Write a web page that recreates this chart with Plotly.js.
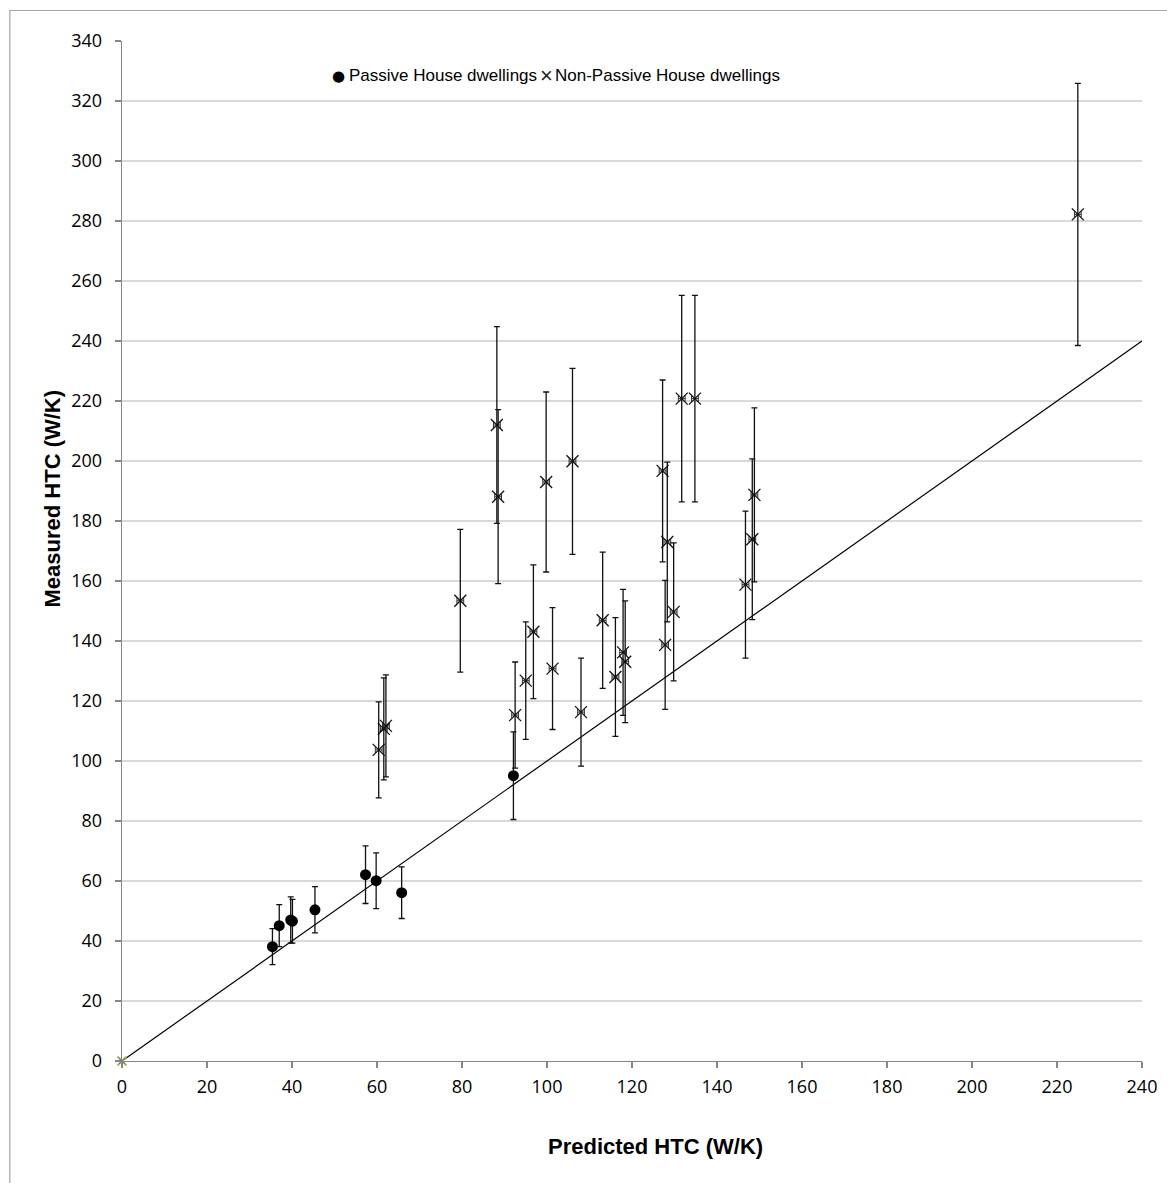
<!DOCTYPE html>
<html>
<head>
<meta charset="utf-8">
<script src="https://cdn.plot.ly/plotly-3.0.1.min.js"></script>
<style>
  html, body { margin: 0; padding: 0; background: #fff; }
  #chart { width: 1167px; height: 1183px; }
</style>
</head>
<body>
<div id="chart"></div>
<script>
// Passive House dwellings
const passiveX   = [35.4, 37.0, 39.7, 40.1, 45.4, 57.3, 59.8, 65.8, 92.1];
const passiveY   = [38.1, 45.1, 47.0, 46.6, 50.4, 62.1, 60.1, 56.1, 95.1];
const passiveErr = [6.0, 7.0, 7.7, 7.3, 7.7, 9.6, 9.3, 8.6, 14.6];

// Non-Passive House dwellings
const nonPassiveX   = [60.4, 61.6, 62.1, 79.6, 88.2, 88.5, 92.5, 95.0, 96.8, 99.8, 101.3, 106.0, 108.0, 113.1,
                       116.1, 117.9, 118.4, 127.2, 127.8, 128.3, 129.8, 131.7, 134.8, 146.7, 148.3, 148.8, 224.9];
const nonPassiveY   = [103.7, 110.7, 111.7, 153.4, 212.0, 188.1, 115.3, 126.8, 143.1, 193.0, 130.8, 199.9, 116.3, 146.9,
                       128.0, 136.2, 133.1, 196.7, 138.7, 173.0, 149.7, 220.8, 220.8, 158.8, 173.9, 188.7, 282.2];
const nonPassiveErr = [16.0, 17.0, 17.0, 23.8, 32.8, 29.0, 17.7, 19.6, 22.3, 30.0, 20.3, 31.0, 18.0, 22.7,
                       19.8, 21.0, 20.3, 30.3, 21.5, 26.6, 23.0, 34.4, 34.4, 24.5, 26.8, 29.0, 43.7];
const nonPassiveErrX = 0.8;

// 1:1 reference line
const lineX = [0, 240];
const lineY = [0, 240];

// Axis ticks
const xTicks = [0, 20, 40, 60, 80, 100, 120, 140, 160, 180, 200, 220, 240];
const yTicks = [0, 20, 40, 60, 80, 100, 120, 140, 160, 180, 200, 220, 240, 260, 280, 300, 320, 340];

// Legend labels
const legendLabels = ['Passive House dwellings', 'Non-Passive House dwellings'];

const traces = [
  {
    x: lineX, y: lineY, mode: 'lines', type: 'scatter',
    line: { color: '#000000', width: 1.2 }, showlegend: false, hoverinfo: 'skip'
  },
  {
    name: legendLabels[1],
    x: nonPassiveX, y: nonPassiveY, mode: 'markers', type: 'scatter', showlegend: false,
    marker: { symbol: 'x-thin', size: 12, color: '#111', line: { color: '#111', width: 1.3 } },
    error_y: { type: 'data', array: nonPassiveErr, visible: true, color: '#111', thickness: 1.3, width: 3 },
    error_x: { type: 'constant', value: nonPassiveErrX, visible: true, color: '#333', thickness: 1, width: 3 }
  },
  {
    name: legendLabels[0],
    x: passiveX, y: passiveY, mode: 'markers', type: 'scatter', showlegend: false,
    marker: { symbol: 'circle', size: 11, color: '#000000' },
    error_y: { type: 'data', array: passiveErr, visible: true, color: '#111', thickness: 1.3, width: 3 }
  },
  {
    x: [0], y: [0], mode: 'markers', type: 'scatter', showlegend: false, cliponaxis: false,
    marker: { symbol: 'x-thin', size: 9, line: { color: '#9bbb59', width: 2 } }
  },
  {
    x: [0], y: [0], mode: 'markers', type: 'scatter', showlegend: false, cliponaxis: false,
    marker: { symbol: 'x-thin', size: 6, line: { color: '#8064a2', width: 1 } }
  }
];

const px2x = p => (p - 121.7) / 1020;
const px2y = p => 1 - (p - 41) / 1020;
const legFont = { family: 'Liberation Sans, Arial, sans-serif', size: 17, color: '#000' };

const tickFont = { family: 'Open Sans, DejaVu Sans, sans-serif', size: 18, color: '#000' };
const layout = {
  width: 1167, height: 1183,
  margin: { l: 122, r: 25, t: 41, b: 122, pad: 0 },
  paper_bgcolor: '#ffffff', plot_bgcolor: '#ffffff',
  showlegend: false,
  xaxis: {
    range: [0, 240], tickvals: xTicks, ticktext: xTicks.map(String),
    showgrid: false, zeroline: false,
    showline: true, linecolor: '#868686', linewidth: 1.3,
    ticks: 'outside', ticklen: 6, tickcolor: '#868686', tickwidth: 1.3,
    tickfont: tickFont, ticklabelstandoff: 3, fixedrange: true
  },
  yaxis: {
    range: [0, 340], tickvals: yTicks, ticktext: yTicks.map(String),
    showgrid: true, gridcolor: '#d9d9d9', gridwidth: 1.3, zeroline: false,
    showline: true, linecolor: '#868686', linewidth: 1.3,
    ticks: 'outside', ticklen: 6, tickcolor: '#868686', tickwidth: 1.3,
    tickfont: tickFont, ticklabelstandoff: 9, fixedrange: true
  },
  annotations: [
    {
      text: '<b>Predicted HTC (W/K)</b>', xref: 'paper', yref: 'paper',
      x: px2x(655), y: px2y(1146.7), xanchor: 'center', yanchor: 'middle',
      showarrow: false, font: { family: 'Liberation Sans, Arial, sans-serif', size: 22, color: '#000' }
    },
    {
      text: '<b>Measured HTC (W/K)</b>', xref: 'paper', yref: 'paper', textangle: -90,
      x: px2x(51.7), y: px2y(498.5), xanchor: 'center', yanchor: 'middle',
      showarrow: false, font: { family: 'Liberation Sans, Arial, sans-serif', size: 22, color: '#000' }
    },
    {
      text: '●', xref: 'paper', yref: 'paper', x: px2x(338.5), y: px2y(76),
      xanchor: 'center', yanchor: 'middle', showarrow: false,
      font: { family: 'DejaVu Sans, sans-serif', size: 15, color: '#000' }
    },
    {
      text: legendLabels[0], xref: 'paper', yref: 'paper', x: px2x(347), y: px2y(76),
      xanchor: 'left', yanchor: 'middle', showarrow: false, font: legFont
    },
    {
      text: '×', xref: 'paper', yref: 'paper', x: px2x(546), y: px2y(76),
      xanchor: 'center', yanchor: 'middle', showarrow: false,
      font: { family: 'Liberation Sans, Arial, sans-serif', size: 22, color: '#222' }
    },
    {
      text: legendLabels[1], xref: 'paper', yref: 'paper', x: px2x(553), y: px2y(76),
      xanchor: 'left', yanchor: 'middle', showarrow: false, font: legFont
    }
  ],
  shapes: [
    {
      type: 'rect', xref: 'paper', yref: 'paper', layer: 'below',
      x0: px2x(9.5), x1: 1.1, y0: -0.2, y1: px2y(10.5),
      line: { color: '#a6a6a6', width: 1.2 }, fillcolor: 'rgba(0,0,0,0)'
    }
  ]
};

Plotly.newPlot('chart', traces, layout, { displayModeBar: false, staticPlot: true });
</script>
</body>
</html>
